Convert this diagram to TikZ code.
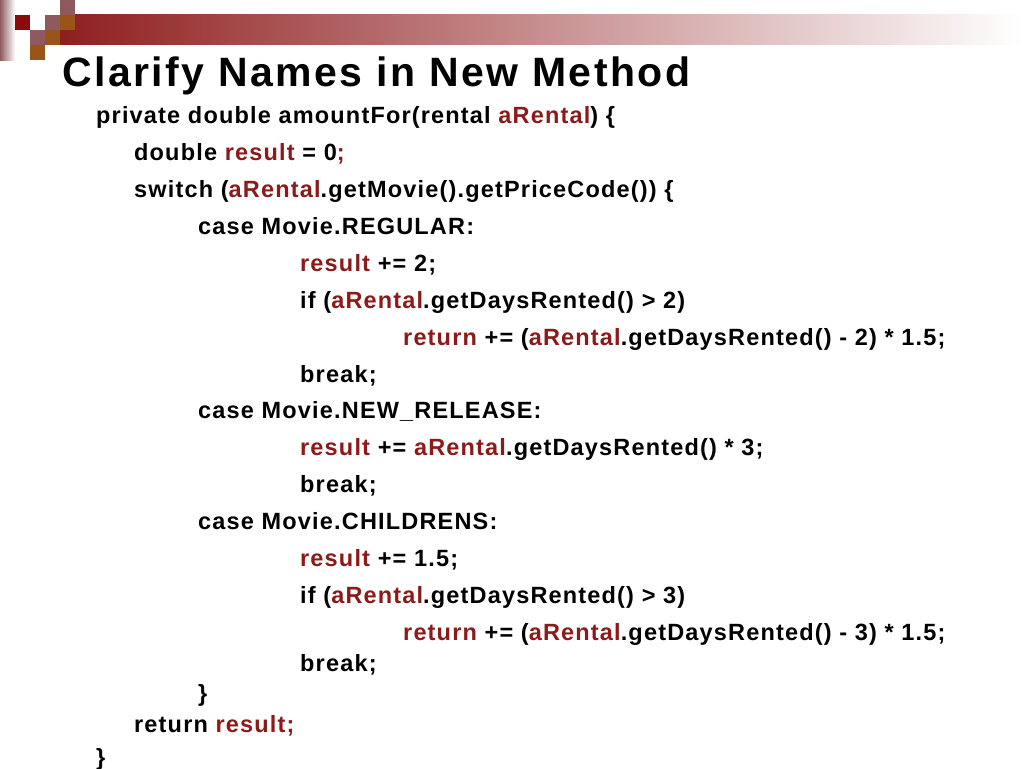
\documentclass[tikz,border=0pt]{standalone}
\usepackage{fontspec}
\setmainfont{Liberation Sans}
\definecolor{kw}{HTML}{8B1A1A}
\definecolor{sqred}{HTML}{8B0A0A}
\definecolor{sqmauve}{HTML}{8E5A5E}
\definecolor{sqorange}{HTML}{9A5418}
\definecolor{bar}{HTML}{8F1F1F}
\newcommand{\R}[1]{\textcolor{kw}{#1}}
\begin{document}
\begin{tikzpicture}[x=1pt,y=-1pt,
  code/.style={anchor=base west,inner sep=0pt,font=\bfseries\fontsize{23.5}{27}\selectfont\addfontfeature{LetterSpace=5}}]
\useasboundingbox (0,0) rectangle (1024,768);
\shade[left color=sqmauve,right color=white] (0,0) rectangle (15,60);
\shade[left color=bar,right color=white] (60,15) rectangle (1024,45);
\fill[sqred] (15,15) rectangle (30,30);
\fill[sqmauve] (45,15) rectangle (60,30);
\fill[sqmauve] (60,0) rectangle (75,15);
\fill[sqorange] (60,15) rectangle (75,30);
\fill[sqmauve] (30,30) rectangle (45,45);
\fill[sqorange] (45,30) rectangle (60,45);
\fill[sqorange] (30,45) rectangle (45,60);
\node[anchor=base west,inner sep=0pt,font=\bfseries\fontsize{41}{46}\selectfont\addfontfeature{LetterSpace=6}] (t) at (62,86) {Clarify Names in New Method};
\node[code] (l1) at (96,123) {private double amountFor(rental \R{aRental}) \{};
\node[code] (l2) at (134,160) {double \R{result} = 0\R{;}};
\node[code] (l3) at (134,197) {switch (\R{aRental}.getMovie().getPriceCode()) \{};
\node[code] (l4) at (198,234) {case Movie.REGULAR:};
\node[code] (l5) at (300,271) {\R{result} += 2;};
\node[code] (l6) at (300,308) {if (\R{aRental}.getDaysRented() > 2)};
\node[code] (l7) at (403,345) {\R{return} += (\R{aRental}.getDaysRented() - 2) * 1.5;};
\node[code] (l8) at (300,382) {break;};
\node[code] (l9) at (198,418) {case Movie.NEW\_RELEASE:};
\node[code] (l10) at (300,455) {\R{result} += \R{aRental}.getDaysRented() * 3;};
\node[code] (l11) at (300,492) {break;};
\node[code] (l12) at (198,529) {case Movie.CHILDRENS:};
\node[code] (l13) at (300,566) {\R{result} += 1.5;};
\node[code] (l14) at (300,603) {if (\R{aRental}.getDaysRented() > 3)};
\node[code] (l15) at (403,640) {\R{return} += (\R{aRental}.getDaysRented() - 3) * 1.5;};
\node[code] (l16) at (300,671) {break;};
\node[code] (l17) at (198,701) {\}};
\node[code] (l18) at (134,732) {return \R{result;}};
\node[code] (l19) at (96,765) {\}};
\end{tikzpicture}
\end{document}
